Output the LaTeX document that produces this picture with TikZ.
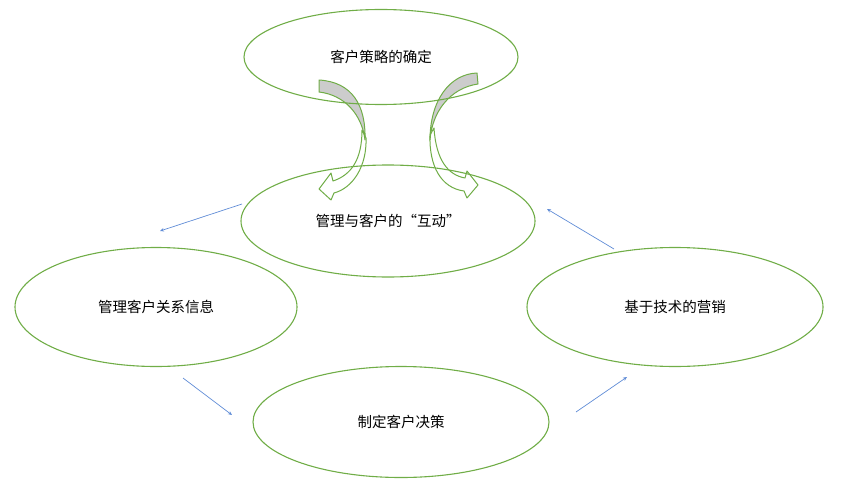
\documentclass[tikz,border=0pt]{standalone}
\usepackage{fontspec}
\newfontfamily\cjk{Noto Sans CJK SC}
\usetikzlibrary{shapes.geometric,arrows.meta,positioning}
\definecolor{ringgreen}{RGB}{112,173,71}
\definecolor{flowblue}{RGB}{96,140,214}
\definecolor{backgray}{RGB}{204,204,204}

\begin{document}
\begin{tikzpicture}[x=1pt, y=-1pt,
    stage/.style={ellipse, draw=ringgreen, line width=1.1pt, inner sep=0pt, font=\cjk\fontsize{14.5}{17}\selectfont},
    flow/.style={-{Stealth[length=4pt,width=3.5pt]}, draw=flowblue, line width=0.7pt},
    backface/.style={draw=ringgreen, fill=backgray, line width=1pt, line join=round},
    frontface/.style={draw=ringgreen, fill=white, line width=1pt, line join=round}
]
    \useasboundingbox (0,0) rectangle (842,492);

    \filldraw[frontface] (366,138) .. controls (367,166) and (353,188) .. (334,193)
        -- (331,200) -- (319,189) -- (331,173) -- (333,181)
        .. controls (351,175) and (362,160) .. (362,130) -- cycle;
    \filldraw[backface] (319,80) .. controls (352,82) and (366,105) .. (365,140)
        .. controls (362,115) and (345,95) .. (319,92) -- cycle;

    \filldraw[frontface] (430,135) .. controls (429,166) and (441,188) .. (464,191)
        -- (467,198) -- (478,185) -- (467,171) -- (465,178)
        .. controls (448,175) and (436,160) .. (434,128) -- cycle;
    \filldraw[backface] (477,73) .. controls (450,74) and (430,100) .. (430,140)
        .. controls (432,112) and (450,88) .. (478,84) -- cycle;

    \node[stage, minimum width=274pt, minimum height=95pt] (strategy) at (381,57) {客户策略的确定};
    \node[stage, minimum width=294pt, minimum height=112pt] (interact) at (388,221) {管理与客户的“互动”};
    \node[stage, minimum width=282pt, minimum height=119pt] (info) at (156,307) {管理客户关系信息};
    \node[stage, minimum width=296pt, minimum height=111pt] (decide) at (401,422) {制定客户决策};
    \node[stage, minimum width=296pt, minimum height=119pt] (market) at (675,307) {基于技术的营销};

    \coordinate (interactout) at (242,204);
    \coordinate (infoin) at (160,231);
    \coordinate (infoout) at (183,378);
    \coordinate (decidein) at (232,415);
    \coordinate (decideout) at (576,412);
    \coordinate (marketin) at (627,377);
    \coordinate (marketout) at (614,249);
    \coordinate (interactin) at (547,209);

    \draw[flow] (interactout) -- (infoin);
    \draw[flow] (infoout) -- (decidein);
    \draw[flow] (decideout) -- (marketin);
    \draw[flow] (marketout) -- (interactin);
\end{tikzpicture}
\end{document}
